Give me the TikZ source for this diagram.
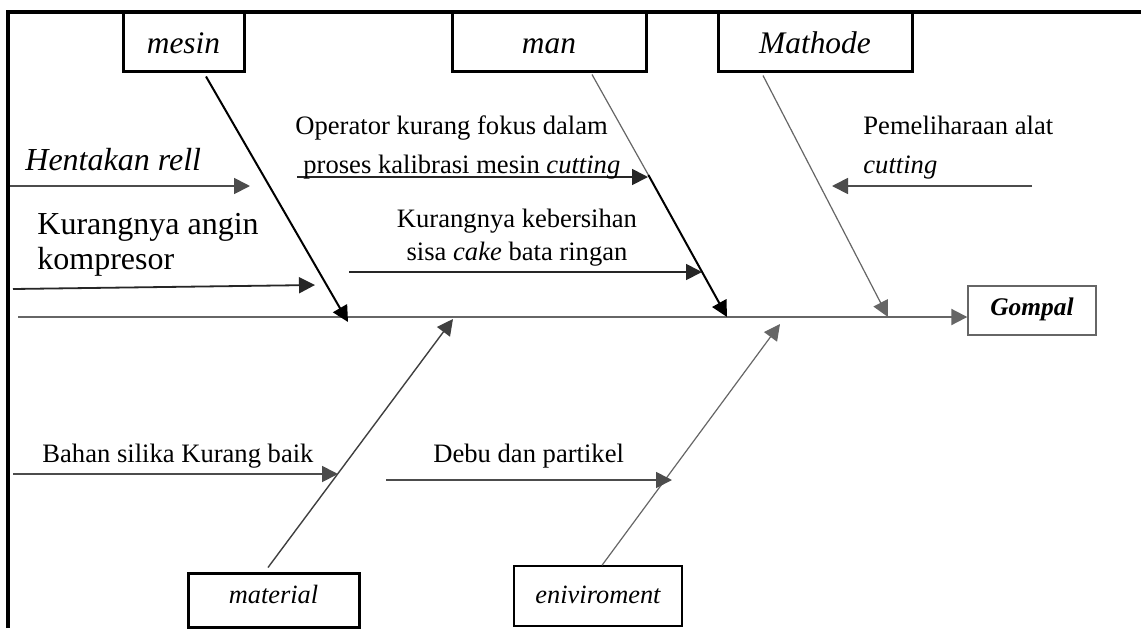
\documentclass[tikz,border=0pt]{standalone}
\usepackage{fontspec}
\setmainfont{Liberation Serif}
\usetikzlibrary{arrows.meta,calc}
\begin{document}
\begin{tikzpicture}[x=0.5pt,y=-0.5pt,
  catbox/.style={draw, line width=1.5pt, inner sep=0pt, font=\fontsize{15.7}{18}\selectfont\itshape, text height=12.5pt, text depth=1pt},
  thinbox/.style={draw, line width=0.7pt, inner sep=0pt},
  tip/.style={-{Triangle[length=8pt,width=8pt]}},
  arr/.style={tip, line width=0.9pt, draw=black!85},
  bonedark/.style={line width=1pt, black},
  bonegray/.style={line width=0.6pt, black!60},
  spine/.style={line width=1pt, black!60, -{Triangle[length=8pt,width=8pt]}},
  txt/.style={inner sep=0pt, font=\fontsize{13.3}{19.5}\selectfont},
  bigtxt/.style={inner sep=0pt, font=\fontsize{16}{17.5}\selectfont}]
\useasboundingbox[fill=white] (0,0) rectangle (1141,628);
% frame
\draw[line width=1.8pt] (8,628) -- (8,12) -- (1141,12);
% category boxes
\node[catbox, minimum width=60.5pt, minimum height=29.5pt] (mesin) at (183.5,41.5) {mesin};
\node[catbox, minimum width=97pt, minimum height=29.5pt] (man) at (549,41.5) {man};
\node[catbox, minimum width=97pt, minimum height=29.5pt] (mathode) at (815,41.5) {Mathode};
\node[catbox, minimum width=85.5pt, minimum height=27pt, font=\fontsize{13.2}{15}\selectfont\itshape, text height=8.5pt, text depth=5.5pt] (material) at (273.5,600) {material};
\node[thinbox, minimum width=84pt, minimum height=30pt, font=\fontsize{13.2}{15}\selectfont\itshape, text height=9.5pt, text depth=2.5pt] (envi) at (598,596) {eniviroment};
\node[thinbox, draw=black!60, minimum width=64pt, minimum height=24.5pt, font=\fontsize{12.7}{15}\selectfont\bfseries\itshape, text height=9pt, text depth=4.5pt] (gompal) at (1032,310.5) {Gompal};
% spine
\coordinate (sp0) at (18,317);
\draw[spine] (sp0) -- (sp0 -| gompal.west);
% bones
\coordinate (mesinEnd) at (348,322);
\draw[bonedark, tip] ([xshift=11.25pt,yshift=-2pt]mesin.south) -- (mesinEnd);
\coordinate (manK) at (648.4,175);
\coordinate (manEnd) at (727,317);
\draw[bonegray] ([xshift=21.5pt,yshift=-1pt]man.south) -- (manK);
\draw[bonedark, tip] (manK) -- (manEnd);
\coordinate (mathEnd) at (888,317);
\draw[bonegray, tip] ([xshift=-26pt,yshift=-1.5pt]mathode.south) -- (mathEnd);
\coordinate (matEnd) at (453,319);
\draw[line width=0.7pt, black!75, tip] ([xshift=-2.75pt,yshift=2pt]material.north) -- (matEnd);
\coordinate (envEnd) at (780,324);
\draw[bonegray, tip] ([xshift=2pt]envi.north) -- (envEnd);
% sub arrows
\coordinate (h1) at (10,186);   \coordinate (h2) at (250,186);
\coordinate (k1) at (13,289);   \coordinate (k2) at (315,285);
\coordinate (o1) at (297,177);  \coordinate (o2) at (648,177);
\coordinate (kb1) at (349,272); \coordinate (kb2) at (702,272);
\coordinate (p1) at (1032,186); \coordinate (p2) at (832,186);
\coordinate (b1) at (13,474);   \coordinate (b2) at (338,474);
\coordinate (d1) at (386,480);  \coordinate (d2) at (672,480);
\draw[arr, draw=black!70] (h1) -- (h2);
\draw[arr] (k1) -- (k2);
\draw[arr] (o1) -- (o2);
\draw[arr] (kb1) -- (kb2);
\draw[arr, draw=black!70] (p1) -- (p2);
\draw[arr, draw=black!70] (b1) -- (b2);
\draw[arr, draw=black!70] (d1) -- (d2);
% texts
\node[bigtxt, anchor=base west, font=\fontsize{16}{17.5}\selectfont\itshape] (hent) at (25,170) {Hentakan rell};
\node[bigtxt, anchor=north west, align=left] (angin) at (37,213) {Kurangnya angin\\kompresor};
\node[txt, anchor=north west, align=left] (oper) at (295,115) {Operator kurang fokus dalam\\\hspace{4pt}proses kalibrasi mesin \textit{cutting}};
\node[txt, anchor=north, align=center, font=\fontsize{13.3}{16.5}\selectfont] (kebers) at (517,209) {Kurangnya kebersihan\\sisa \textit{cake} bata ringan};
\node[txt, anchor=north west, align=left] (pemel) at (863,116) {Pemeliharaan alat\\\textit{cutting}};
\node[txt, anchor=base west] (bahan) at (42,462) {Bahan silika Kurang baik};
\node[txt, anchor=base west] (debu) at (433,462) {Debu dan partikel};
\end{tikzpicture}
\end{document}
